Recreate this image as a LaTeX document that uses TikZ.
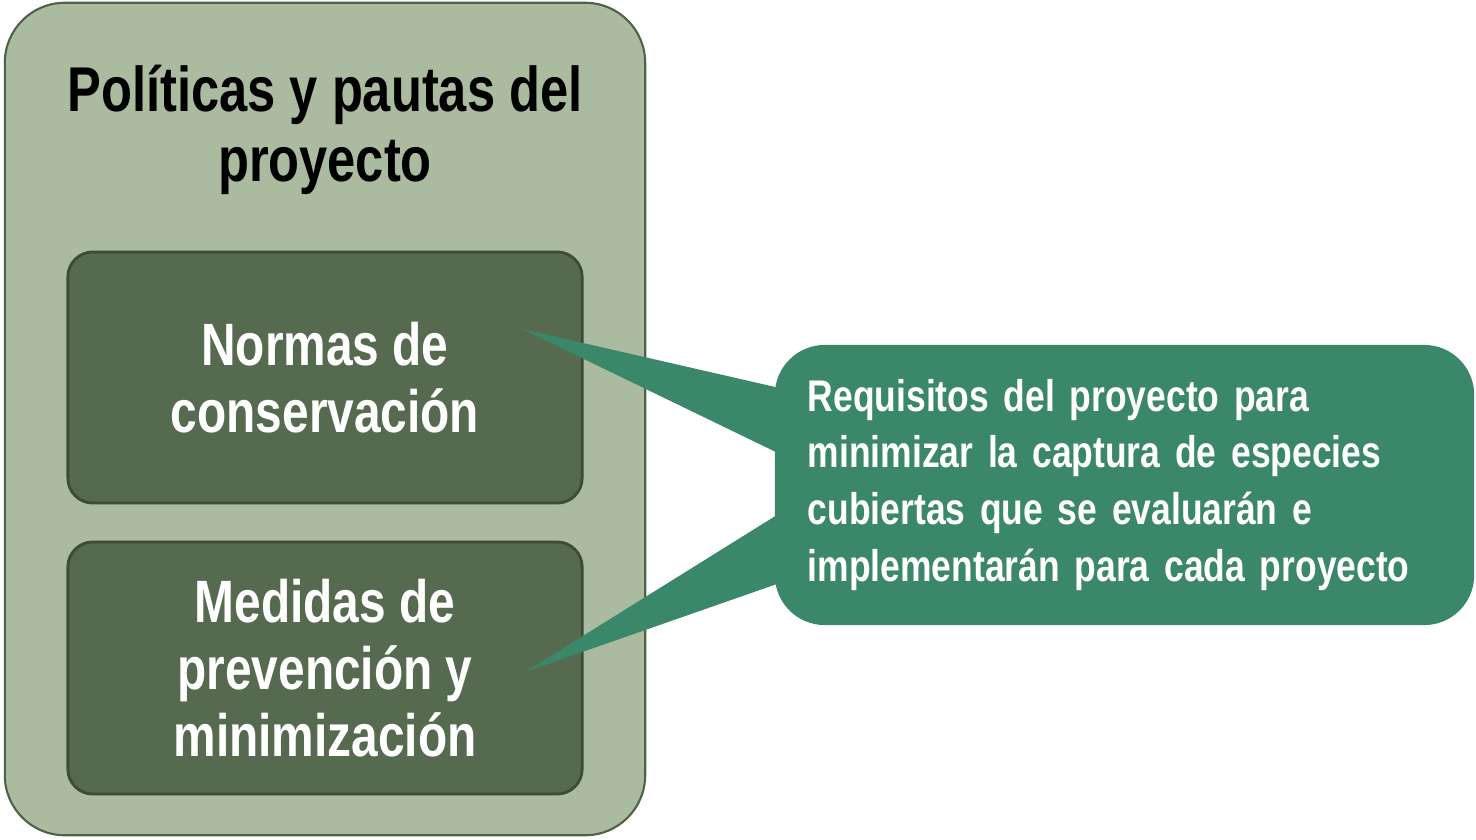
\documentclass[tikz,border=0pt]{standalone}
\usepackage{fontspec}
\setmainfont[FakeStretch=0.8]{Liberation Sans}
\definecolor{outergreen}{RGB}{170,187,160}
\definecolor{outerline}{RGB}{78,98,72}
\definecolor{innergreen}{RGB}{85,106,78}
\definecolor{innerline}{RGB}{60,76,55}
\definecolor{callgreen}{RGB}{59,135,105}
\tikzset{
  outerbox/.style={draw=outerline,fill=outergreen,line width=0.6pt,rounded corners=0.6cm,minimum width=6.4cm,minimum height=8.32cm},
  innerbox/.style={draw=innerline,fill=innergreen,line width=0.8pt,rounded corners=0.25cm,minimum width=5.14cm,minimum height=2.51cm,
    text=white,align=center,font=\fontsize{17}{19}\selectfont\bfseries},
  callbox/.style={fill=callgreen,rounded corners=0.5cm,minimum width=6.99cm,minimum height=2.8cm,
    text=white,align=left,text width=6.33cm,inner sep=0.33cm,font=\fontsize{12.6}{16.2}\selectfont\bfseries},
  pointer/.style={fill=callgreen}
}
\begin{document}
\begin{tikzpicture}[x=0.01cm,y=-0.01cm]
    \useasboundingbox (0,0) rectangle (1476,839);
    \node[outerbox] (outer) at (325,419) {};
    \node[align=center,font=\fontsize{18}{19.9}\selectfont\bfseries] (title) at (325,130) {Políticas y pautas del\\proyecto};
    \node[innerbox] (normas) at (325,377.5) {Normas de\\conservación};
    \node[innerbox,minimum height=2.52cm] (medidas) at (325,668) {Medidas de\\prevención y\\minimización};
    \node[callbox] (req) at (1124.5,485) {Requisitos del proyecto para\\minimizar la captura de especies\\cubiertas que se evaluarán e\\implementarán para cada proyecto};
    \coordinate (tipA) at (522,329);
    \coordinate (tipB) at (525,672);
    \fill[pointer] (tipA) -- ([xshift=4pt,yshift=0.95cm]req.west) -- ([xshift=4pt,yshift=0.27cm]req.west) -- cycle;
    \fill[pointer] (tipB) -- ([xshift=4pt,yshift=-0.23cm]req.west) -- ([xshift=4pt,yshift=-0.95cm]req.west) -- cycle;
\end{tikzpicture}
\end{document}
